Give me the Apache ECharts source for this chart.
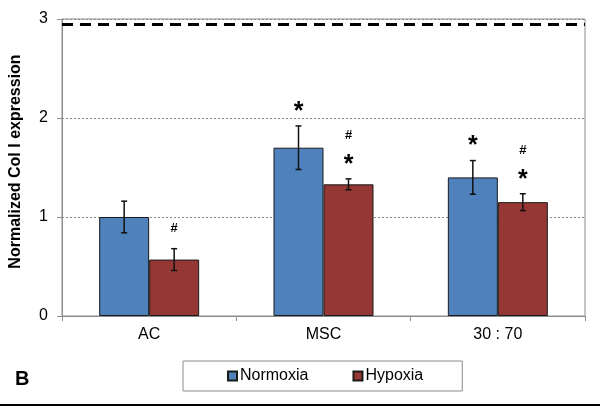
<!DOCTYPE html>
<html><head><meta charset="utf-8">
<script src="https://cdn.jsdelivr.net/npm/echarts@6/dist/echarts.min.js"></script>
<style>html,body{margin:0;padding:0;background:#fff}#c{width:600px;height:407px}</style>
</head><body><div id="c"></div>
<script>
const categories = ['AC', 'MSC', '30 : 70'];
const normoxia = [1.00, 1.70, 1.40];
const normoxiaErr = [0.16, 0.22, 0.17];
const hypoxia = [0.57, 1.33, 1.15];
const hypoxiaErr = [0.11, 0.055, 0.085];
const normoxiaMarks = [[], ['*'], ['*']];
const hypoxiaMarks = [['#'], ['*', '#'], ['*', '#']];
const yTicks = [0, 1, 2, 3];
const refLine = 2.95;

const BAR_W = 50;
const chart = echarts.init(document.getElementById('c'), null, {renderer: 'canvas'});

function errSeries(vals, errs, marks, dx) {
  const data = vals.map((v, i) => [i, v - errs[i], v + errs[i], i]);
  return {
    type: 'custom', silent: true, z: 5,
    renderItem: function (params, api) {
      const i = api.value(0);
      const lo = api.coord([i, api.value(1)]);
      const hi = api.coord([i, api.value(2)]);
      const x = lo[0] + dx;
      const children = [
        {type: 'line', shape: {x1: x, y1: lo[1], x2: x, y2: hi[1]}, style: {stroke: '#111', lineWidth: 1.5}},
        {type: 'line', shape: {x1: x - 3, y1: lo[1], x2: x + 3, y2: lo[1]}, style: {stroke: '#111', lineWidth: 1.5}},
        {type: 'line', shape: {x1: x - 3, y1: hi[1], x2: x + 3, y2: hi[1]}, style: {stroke: '#111', lineWidth: 1.5}}
      ];
      let y = hi[1] - 20;
      (marks[api.value(3)] || []).forEach(m => {
        const star = m === '*';
        children.push({type: 'text', style: {
          text: m, x: x, y: star ? y + 6 : y, textAlign: 'center', textVerticalAlign: 'middle',
          font: star ? 'bold 25px "Liberation Sans", Arial' : 'bold 13px "Liberation Sans", Arial', fill: '#000'}});
        y -= 23;
      });
      return {type: 'group', children: children};
    },
    data: data
  };
}

chart.setOption({
  animation: false,
  textStyle: {fontFamily: '"Liberation Sans", Arial, sans-serif'},
  grid: {left: 62, right: 15, top: 19, bottom: 91, show: true, borderColor: '#8c8c8c', borderWidth: 1,
    outerBoundsMode: 'none', containLabel: false},
  legend: {
    left: 183, top: 361, padding: [7, 39, 7, 44], itemGap: 44, itemWidth: 9, itemHeight: 9,
    borderColor: '#8c8c8c', borderWidth: 1, icon: 'rect',
    textStyle: {fontSize: 16, color: '#000', padding: [0, 0, 0, -2]},
    data: ['Normoxia', 'Hypoxia']
  },
  xAxis: {
    type: 'category', data: categories,
    axisLine: {lineStyle: {color: '#8c8c8c'}},
    axisTick: {show: true, length: 5, lineStyle: {color: '#8c8c8c'}},
    axisLabel: {fontSize: 16, color: '#000', margin: 11}
  },
  yAxis: {
    type: 'value', min: 0, max: 3, interval: 1,
    name: 'Normalized Col I expression', nameLocation: 'middle', nameGap: 38,
    nameTextStyle: {fontSize: 16, fontWeight: 'bold', color: '#000', padding: [0, 0, 0, 12]},
    axisLine: {show: true, lineStyle: {color: '#8c8c8c'}},
    axisTick: {show: true, length: 5, lineStyle: {color: '#8c8c8c'}},
    axisLabel: {fontSize: 16, color: '#000', margin: 14, formatter: v => yTicks.includes(v) ? String(v) : ''},
    splitLine: {show: true, lineStyle: {color: '#888', type: [2, 2], width: 1}}
  },
  series: [
    {name: 'Normoxia', type: 'bar', data: normoxia, barWidth: BAR_W, barGap: '0%',
      itemStyle: {color: '#4F81BD', borderColor: '#1a1a1a', borderWidth: 1},
      markLine: {silent: true, symbol: 'none', label: {show: false},
        lineStyle: {color: '#000', type: [11, 7], width: 3},
        data: [{yAxis: refLine}]}},
    {name: 'Hypoxia', type: 'bar', data: hypoxia, barWidth: BAR_W,
      itemStyle: {color: '#953735', borderColor: '#1a1a1a', borderWidth: 1}},
    errSeries(normoxia, normoxiaErr, normoxiaMarks, -BAR_W / 2),
    errSeries(hypoxia, hypoxiaErr, hypoxiaMarks, BAR_W / 2)
  ],
  graphic: [
    {type: 'text', left: 15, top: 369, style: {text: 'B', font: 'bold 20px "Liberation Sans", Arial', fill: '#000'}},
    {type: 'rect', shape: {x: 0, y: 404, width: 600, height: 2}, style: {fill: '#000'}}
  ]
});
</script></body></html>
